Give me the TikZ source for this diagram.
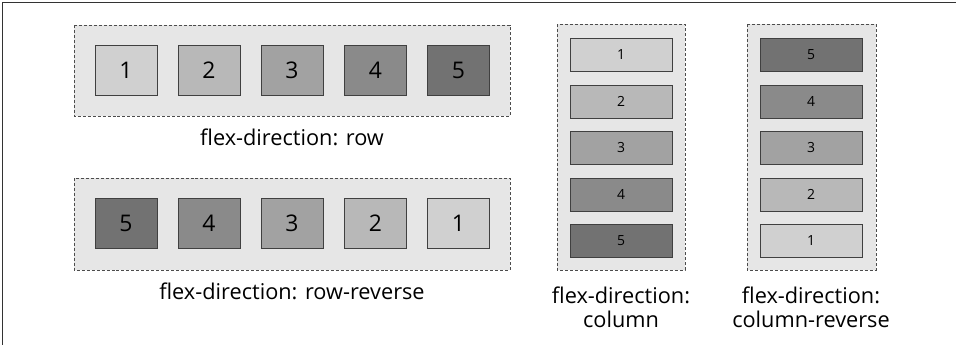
\documentclass[tikz,border=0pt]{standalone}
\usepackage{fontspec}
\setmainfont{Open Sans}
\definecolor{c1}{HTML}{D0D0D0}
\definecolor{c2}{HTML}{B8B8B8}
\definecolor{c3}{HTML}{A2A2A2}
\definecolor{c4}{HTML}{8A8A8A}
\definecolor{c5}{HTML}{727272}
\definecolor{cont}{HTML}{E6E6E6}
\tikzset{
  container/.style={draw=black!70, fill=cont, densely dashed, line width=0.6pt},
  hbox/.style={draw=black!75, line width=0.7pt, minimum width=62bp, minimum height=50bp, inner sep=0pt, font=\fontsize{23}{26}\selectfont},
  vbox/.style={draw=black!75, line width=0.7pt, minimum width=102bp, minimum height=33bp, inner sep=0pt, font=\fontsize{14}{16}\selectfont},
  lbl/.style={font=\fontsize{21.8}{24}\selectfont, align=center, inner sep=0pt}
}
\begin{document}
\begin{tikzpicture}[x=1bp,y=-1bp]
\useasboundingbox (0,0) rectangle (956,345);
% frame (top and left)
\draw[black!80, line width=1.2pt] (956,2.5) -- (2.5,2.5) -- (2.5,345);
% row
\draw[container] (74,25) rectangle (510,116);
\foreach \i/\x in {1/126,2/209,3/292,4/375.5,5/458.5}
  \node[hbox, fill=c\i] (r\i) at (\x,70) {\i};
\node[lbl] (lrow) at (292,137) {flex-direction: row};
% row-reverse
\draw[container] (74,178) rectangle (510,270);
\foreach \i/\x in {5/126,4/209,3/292,2/375.5,1/458.5}
  \node[hbox, fill=c\i] (rr\i) at (\x,223) {\i};
\node[lbl] (lrowr) at (292,291) {flex-direction: row-reverse};
% column
\draw[container] (557,24) rectangle (685,270);
\foreach \i/\y in {1/54.5,2/101.5,3/147.5,4/194.5,5/240.5}
  \node[vbox, fill=c\i] (c\i) at (621,\y) {\i};
\node[lbl] (lcol) at (621,307) {flex-direction:\\column};
% column-reverse
\draw[container] (747,24) rectangle (876,270);
\foreach \i/\y in {5/54.5,4/101.5,3/147.5,2/194.5,1/240.5}
  \node[vbox, fill=c\i] (cr\i) at (811,\y) {\i};
\node[lbl] (lcolr) at (811,307) {flex-direction:\\column-reverse};
\end{tikzpicture}
\end{document}
